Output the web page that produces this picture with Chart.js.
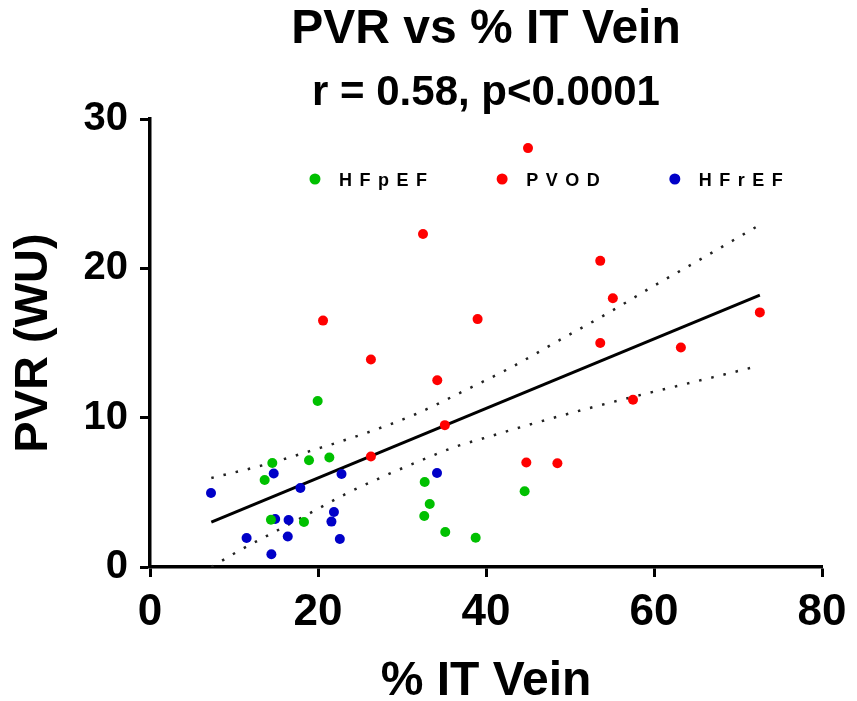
<!DOCTYPE html>
<html>
<head>
<meta charset="utf-8">
<script src="https://cdn.jsdelivr.net/npm/chart.js@4/dist/chart.umd.min.js"></script>
<style>
  html, body { margin: 0; padding: 0; background: #fff; }
  canvas { display: block; }
</style>
</head>
<body>
<canvas id="myChart" width="857" height="701"></canvas>
<script>
// groups shown in the key
const groupNames = ['HFpEF', 'PVOD', 'HFrEF'];
const groupColors = ['#00c000', '#ff0000', '#0000c8'];

// % IT vein / PVR (WU) per patient
const hfpefX = [19.96, 14.56, 13.65, 18.93, 21.35, 14.4, 18.33, 32.7, 33.3, 32.65, 35.15, 38.77, 44.6];
const hfpefY = [11.12, 6.97, 5.83, 7.15, 7.33, 3.17, 3.01, 5.69, 4.22, 3.42, 2.34, 1.96, 5.07];

const pvodX = [45.0, 32.5, 53.6, 55.1, 20.6, 39.0, 26.3, 53.6, 72.6, 63.2, 34.2, 57.5, 35.1, 26.3, 44.8, 48.5];
const pvodY = [28.05, 22.3, 20.5, 18.0, 16.5, 16.6, 13.9, 15.0, 17.05, 14.7, 12.5, 11.2, 9.5, 7.4, 7.0, 6.95];

const hfrefX = [7.26, 14.73, 17.9, 22.8, 14.9, 16.5, 21.9, 21.6, 11.5, 16.4, 22.6, 14.45, 34.17];
const hfrefY = [4.96, 6.26, 5.29, 6.23, 3.22, 3.15, 3.68, 3.04, 1.94, 2.04, 1.88, 0.85, 6.3];

// linear fit and its 95% band
const fitX = [7.3, 72.6];
const fitY = [3.0, 18.2];
const upperX = [7.3, 13.4, 19.6, 25.6, 31.6, 37.3, 43.1, 48.7, 54.2, 59.7, 65.2, 72.1];
const upperY = [5.96, 6.81, 7.86, 8.95, 10.23, 11.77, 13.4, 15.18, 16.9, 18.73, 20.5, 22.75];
const lowerX = [7.3, 10.7, 14.9, 19.1, 23.4, 27.65, 32.1, 36.5, 39.6, 45.7, 51.9, 57.9, 64.3, 72.0];
const lowerY = [0.0, 1.12, 2.37, 3.62, 4.92, 6.03, 7.1, 8.08, 8.6, 9.62, 10.58, 11.45, 12.33, 13.4];

const xTicks = [0, 20, 40, 60, 80];
const yTicks = [0, 10, 20, 30];

function toPoints(xs, ys) {
  return xs.map((x, i) => ({x: x, y: ys[i]}));
}

function groupSet(i, xs, ys) {
  return {
    label: groupNames[i],
    data: toPoints(xs, ys),
    backgroundColor: groupColors[i],
    borderWidth: 0,
    pointRadius: 5,
    pointHoverRadius: 5
  };
}

function lineSet(xs, ys, dotted) {
  return {
    label: '',
    data: toPoints(xs, ys),
    showLine: true,
    pointRadius: 0,
    borderColor: dotted ? '#222' : '#000',
    borderWidth: dotted ? 2.5 : 3,
    borderDash: dotted ? [2.5, 10] : [],
    cubicInterpolationMode: 'monotone',
    fill: false
  };
}

// key drawn inside the plot, near the top
const innerLegend = {
  id: 'innerLegend',
  afterDatasetsDraw(chart) {
    const {ctx, chartArea} = chart;
    const w = chartArea.right - chartArea.left;
    const spots = [0.2455, 0.524, 0.781];
    const y = chartArea.top + 61;
    ctx.save();
    ctx.font = 'bold 18px "Liberation Sans", Arial, sans-serif';
    ctx.letterSpacing = '7.5px';
    ctx.textBaseline = 'middle';
    ctx.textAlign = 'left';
    groupNames.forEach((name, i) => {
      const x = chartArea.left + spots[i] * w;
      ctx.fillStyle = groupColors[i];
      ctx.beginPath();
      ctx.arc(x, y - 1, 5.5, 0, Math.PI * 2);
      ctx.fill();
      ctx.fillStyle = '#000';
      ctx.fillText(name, x + 24, y + 1);
    });
    ctx.restore();
  }
};

const font = '"Liberation Sans", Arial, sans-serif';

const ctx = document.getElementById('myChart').getContext('2d');
new Chart(ctx, {
  type: 'scatter',
  data: {
    datasets: [
      groupSet(0, hfpefX, hfpefY),
      groupSet(1, pvodX, pvodY),
      groupSet(2, hfrefX, hfrefY),
      lineSet(fitX, fitY, false),
      lineSet(upperX, upperY, true),
      lineSet(lowerX, lowerY, true)
    ]
  },
  plugins: [innerLegend],
  options: {
    responsive: false,
    animation: false,
    layout: { padding: { left: 0, right: 35, top: 0, bottom: 0 } },
    plugins: {
      legend: { display: false },
      tooltip: { enabled: false },
      title: {
        display: true,
        fullSize: false,
        text: 'PVR vs % IT Vein',
        color: '#000',
        font: { family: font, size: 48, weight: 'bold', lineHeight: 1 },
        padding: { top: 6, bottom: 0 }
      },
      subtitle: {
        display: true,
        fullSize: false,
        text: 'r = 0.58, p<0.0001',
        color: '#000',
        font: { family: font, size: 42, weight: 'bold', lineHeight: 1 },
        padding: { top: 18, bottom: 5 }
      }
    },
    scales: {
      x: {
        type: 'linear',
        min: 0,
        max: 80,
        afterBuildTicks(scale) {
          scale.ticks = xTicks.map(v => ({value: v}));
        },
        afterFit(scale) { scale.height = 134; },
        grid: { drawOnChartArea: false, tickLength: 10, tickWidth: 3, tickColor: '#000' },
        border: { color: '#000', width: 3.5 },
        ticks: {
          color: '#000',
          padding: 9,
          font: { family: font, size: 44, weight: 'bold' }
        },
        title: {
          display: true,
          text: '% IT Vein',
          color: '#000',
          font: { family: font, size: 48, weight: 'bold', lineHeight: 0.8 },
          padding: { top: 0, bottom: 0 }
        }
      },
      y: {
        type: 'linear',
        min: 0,
        max: 30,
        afterBuildTicks(scale) {
          scale.ticks = yTicks.map(v => ({value: v}));
        },
        afterFit(scale) { scale.width = 150; },
        grid: { drawOnChartArea: false, tickLength: 10, tickWidth: 3, tickColor: '#000' },
        border: { color: '#000', width: 3.5 },
        ticks: {
          color: '#000',
          padding: 12,
          font: { family: font, size: 40, weight: 'bold' }
        },
        title: {
          display: true,
          text: 'PVR (WU)',
          color: '#000',
          font: { family: font, size: 47, weight: 'bold', lineHeight: 1 },
          padding: { top: 11, bottom: 0 }
        }
      }
    }
  }
});
</script>
</body>
</html>
